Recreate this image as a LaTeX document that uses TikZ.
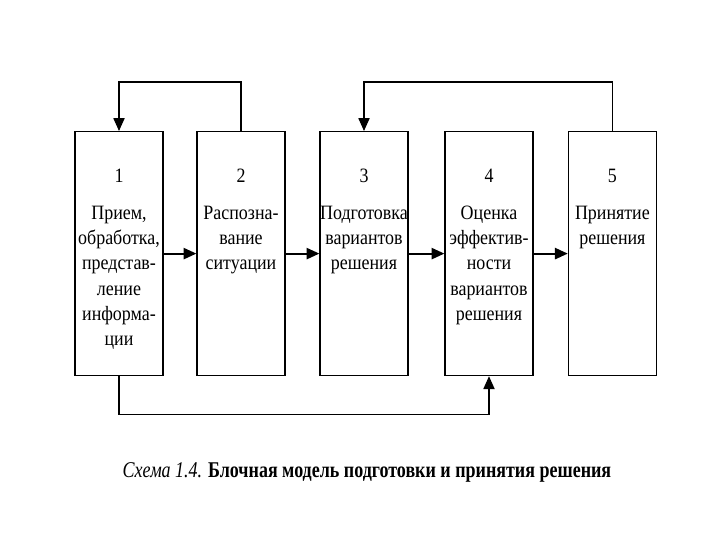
\documentclass[tikz,border=0pt]{standalone}
\usepackage{fontspec}
\setmainfont{Liberation Serif}[FakeStretch=0.88]
\newfontfamily\capfont{Liberation Serif}[FakeStretch=0.8]
\usetikzlibrary{arrows.meta}

\tikzset{
  block/.style={draw, line width=0.9pt, minimum width=2.2cm, minimum height=6.1cm, inner sep=0pt},
  blocktext/.style={anchor=north, align=center, inner sep=0pt, font=\fontsize{14.5}{18}\selectfont},
  flow/.style={-{Triangle[length=0.32cm, width=0.28cm]}, line width=1.4pt},
  back/.style={-{Triangle[length=0.32cm, width=0.28cm]}, line width=0.8pt}
}

\begin{document}
\begin{tikzpicture}
\useasboundingbox (0,0) rectangle (18,-13.5);

% Draw blocks
\node[block] (b1) at (2.975,-6.34) {};
\node[block] (b2) at (6.025,-6.34) {};
\node[block] (b3) at (9.1,-6.34) {};
\node[block] (b4) at (12.225,-6.34) {};
\node[block] (b5) at (15.31,-6.34) {};

% Block texts
\node[blocktext] (t1) at ([yshift=-0.95cm]b1.north) {1\\[8pt]Прием,\\обработка,\\представ-\\ление\\информа-\\ции};
\node[blocktext] (t2) at ([yshift=-0.95cm]b2.north) {2\\[8pt]Распозна-\\вание\\ситуации};
\node[blocktext] (t3) at ([yshift=-0.95cm]b3.north) {3\\[8pt]Подготовка\\вариантов\\решения};
\node[blocktext] (t4) at ([yshift=-0.95cm]b4.north) {4\\[8pt]Оценка\\эффектив-\\ности\\вариантов\\решения};
\node[blocktext] (t5) at ([yshift=-0.95cm]b5.north) {5\\[8pt]Принятие\\решения};

% Forward arrows
\draw[flow] (b1) -- (b2);
\draw[flow] (b2) -- (b3);
\draw[flow] (b3) -- (b4);
\draw[flow] (b4) -- (b5);

% Feedback loops
\draw[back] (b2.north) -- ++(0,1.225) -| (b1.north);
\draw[back] (b5.north) -- ++(0,1.225) -| (b3.north);
\draw[back] (b1.south) -- ++(0,-0.95) -| (b4.south);

% Caption
\node (cap) at (9.175,-11.8) {\capfont\fontsize{16}{18}\selectfont\textit{Схема 1.4.} \textbf{Блочная модель подготовки и принятия решения}};

\end{tikzpicture}
\end{document}
